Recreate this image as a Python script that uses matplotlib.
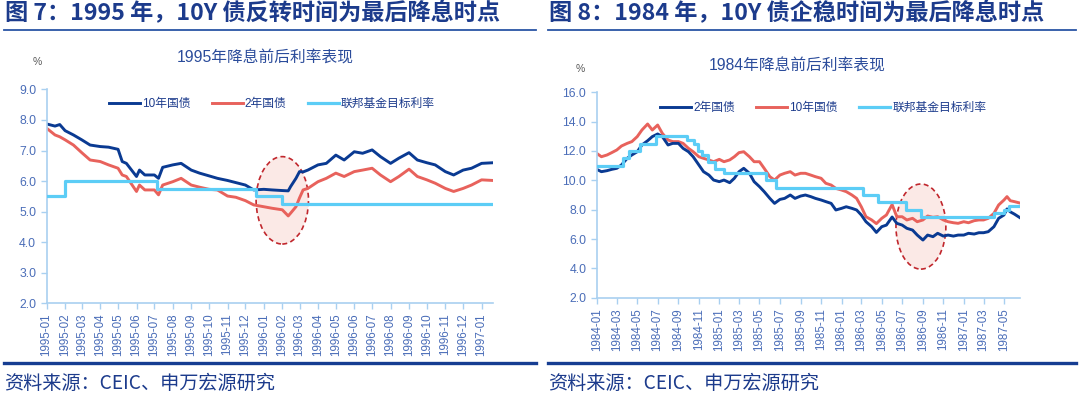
import matplotlib
matplotlib.use('Agg')
import pandas as pd
import matplotlib.pyplot as plt
import matplotlib.dates as mdates
from matplotlib.patches import Ellipse
from matplotlib.lines import Line2D

plt.rcParams['font.family'] = ['Liberation Sans', 'Noto Sans CJK SC', 'DejaVu Sans']

# ---------- 图7: 1995 ----------
DATES_95 = ['1995-01-01', '1995-01-15', '1995-01-23', '1995-02-01', '1995-02-15', '1995-03-01',
            '1995-03-15', '1995-04-01', '1995-04-15', '1995-05-01', '1995-05-08', '1995-05-15',
            '1995-06-01', '1995-06-06', '1995-06-15', '1995-07-01', '1995-07-08', '1995-07-15',
            '1995-08-01', '1995-08-15', '1995-09-01', '1995-09-15', '1995-10-01', '1995-10-15',
            '1995-11-01', '1995-11-15', '1995-12-01', '1995-12-15', '1996-01-01', '1996-01-15',
            '1996-02-01', '1996-02-11', '1996-02-15', '1996-02-24', '1996-03-01', '1996-03-07',
            '1996-03-15', '1996-04-01', '1996-04-15', '1996-05-01', '1996-05-15', '1996-06-01',
            '1996-06-15', '1996-07-01', '1996-07-15', '1996-08-01', '1996-08-15', '1996-09-01',
            '1996-09-15', '1996-10-01', '1996-10-15', '1996-11-01', '1996-11-15', '1996-12-01',
            '1996-12-15', '1997-01-01', '1997-01-20']
UST10_95 = [7.87, 7.80, 7.85, 7.65, 7.51, 7.35, 7.18, 7.13, 7.11, 7.04, 6.64, 6.58,
            6.15, 6.36, 6.20, 6.20, 6.09, 6.45, 6.53, 6.58, 6.36, 6.26, 6.17, 6.09,
            6.02, 5.95, 5.87, 5.71, 5.73, 5.71, 5.69, 5.68, 5.82, 6.09, 6.31, 6.30,
            6.36, 6.53, 6.58, 6.85, 6.69, 6.96, 6.91, 7.02, 6.80, 6.58, 6.75, 6.93,
            6.69, 6.60, 6.53, 6.31, 6.20, 6.36, 6.42, 6.58, 6.60]
UST2_95 = [7.73, 7.51, 7.45, 7.35, 7.18, 6.93, 6.69, 6.64, 6.53, 6.42, 6.20, 6.15,
           5.66, 5.87, 5.71, 5.71, 5.55, 5.87, 5.98, 6.09, 5.87, 5.80, 5.73, 5.71,
           5.51, 5.47, 5.36, 5.22, 5.16, 5.11, 5.06, 4.86, 4.95, 5.16, 5.45, 5.71,
           5.76, 5.98, 6.09, 6.26, 6.15, 6.31, 6.36, 6.42, 6.20, 5.98, 6.15, 6.39,
           6.15, 6.04, 5.93, 5.76, 5.66, 5.76, 5.87, 6.04, 6.02]
FED_DATES_95 = ['1995-01-01', '1995-02-01', '1995-07-06', '1995-12-19', '1996-01-31', '1997-01-20']
FED_95 = [5.50, 6.00, 5.75, 5.50, 5.25, 5.25]

# ---------- 图8: 1984 ----------
DATES_84 = ['1984-01-01', '1984-01-15', '1984-02-01', '1984-02-15', '1984-03-01', '1984-03-15',
            '1984-04-01', '1984-04-15', '1984-05-01', '1984-05-15', '1984-06-01', '1984-06-15',
            '1984-07-01', '1984-07-15', '1984-08-01', '1984-08-15', '1984-09-01', '1984-09-15',
            '1984-10-01', '1984-10-15', '1984-11-01', '1984-11-15', '1984-12-01', '1984-12-15',
            '1985-01-01', '1985-01-15', '1985-02-01', '1985-02-15', '1985-03-01', '1985-03-15',
            '1985-04-01', '1985-04-15', '1985-05-01', '1985-05-15', '1985-06-01', '1985-06-15',
            '1985-07-01', '1985-07-15', '1985-08-01', '1985-08-15', '1985-09-01', '1985-09-15',
            '1985-10-01', '1985-10-15', '1985-11-01', '1985-11-15', '1985-12-01', '1985-12-15',
            '1986-01-01', '1986-01-15', '1986-02-01', '1986-02-15', '1986-03-01', '1986-03-15',
            '1986-04-01', '1986-04-15', '1986-05-01', '1986-05-15', '1986-06-01', '1986-06-15',
            '1986-07-01', '1986-07-15', '1986-08-01', '1986-08-15', '1986-09-01', '1986-09-15',
            '1986-10-01', '1986-10-15', '1986-11-01', '1986-11-15', '1986-12-01', '1986-12-15',
            '1987-01-01', '1987-01-15', '1987-02-01', '1987-02-15', '1987-03-01', '1987-03-15',
            '1987-04-01', '1987-04-15', '1987-05-01', '1987-05-10', '1987-05-20', '1987-06-01',
            '1987-06-18']
UST2_84 = [10.75, 10.59, 10.66, 10.75, 10.82, 11.05, 11.50, 11.73, 11.95, 12.41, 12.70, 12.98,
           13.16, 12.98, 12.41, 12.52, 12.52, 12.18, 11.95, 11.61, 11.05, 10.59, 10.36, 10.02,
           9.91, 10.02, 9.84, 10.14, 10.59, 10.82, 10.48, 9.91, 9.57, 9.23, 8.77, 8.43,
           8.70, 8.77, 9.00, 8.77, 8.93, 9.00, 8.89, 8.77, 8.66, 8.55, 8.43, 7.98,
           8.09, 8.20, 8.09, 7.98, 7.64, 7.18, 6.84, 6.45, 6.84, 6.95, 7.50, 7.07,
           6.95, 6.73, 6.61, 6.27, 5.93, 6.27, 6.16, 6.39, 6.20, 6.27, 6.20, 6.27,
           6.27, 6.39, 6.34, 6.43, 6.43, 6.50, 6.84, 7.41, 7.64, 8.05, 7.85, 7.70,
           7.45]
UST10_84 = [11.84, 11.61, 11.73, 11.89, 12.07, 12.34, 12.52, 12.64, 12.98, 13.43, 13.84, 13.43,
            13.77, 13.20, 12.75, 12.64, 12.64, 12.52, 12.18, 11.95, 11.61, 11.50, 11.39, 11.27,
            11.43, 11.27, 11.39, 11.61, 11.89, 11.95, 11.61, 11.27, 11.27, 10.82, 10.25, 10.02,
            10.36, 10.48, 10.59, 10.36, 10.48, 10.48, 10.36, 10.25, 10.14, 9.80, 9.68, 9.45,
            9.34, 9.23, 9.00, 8.77, 8.20, 7.52, 7.30, 7.05, 7.41, 7.64, 8.35, 7.52,
            7.52, 7.30, 7.41, 7.18, 7.30, 7.57, 7.48, 7.52, 7.30, 7.18, 7.11, 7.07,
            7.18, 7.11, 7.25, 7.30, 7.30, 7.41, 7.75, 8.32, 8.66, 8.89, 8.61, 8.55,
            8.45]
PRIME_DATES_84 = ['1984-01-01', '1984-03-19', '1984-04-05', '1984-05-08', '1984-06-25', '1984-09-27',
                  '1984-10-17', '1984-10-29', '1984-11-09', '1984-11-28', '1984-12-20', '1985-01-15',
                  '1985-05-20', '1985-06-18', '1986-03-07', '1986-04-21', '1986-07-11', '1986-08-26',
                  '1987-04-01', '1987-05-01', '1987-05-15', '1987-06-18']
PRIME_84 = [11.0, 11.5, 12.0, 12.5, 13.0, 12.75, 12.5, 12.0, 11.75, 11.25, 10.75, 10.5,
            10.0, 9.5, 9.0, 8.5, 8.0, 7.5, 7.75, 8.0, 8.25, 8.25]

NAVY = '#0A3A92'
RED = '#E8625C'
SKY = '#5CCDF6'
SPINE = '#A9D0F0'
TICKC = '#4A6DB8'
TEXTC = '#1C3B8C'


def draw_panel(ax, dates, s1, s2, sdates, srate, c1, c2, labels, ylim, ystep, tick_every, ell):
    d = pd.to_datetime(dates)
    sd = pd.to_datetime(sdates)
    ax.add_patch(Ellipse((mdates.date2num(pd.Timestamp(ell[0])), ell[1]), ell[2], ell[3],
                         facecolor='#FBE9E6', edgecolor='#C1272D', ls=(0, (3, 2)), lw=1.2, zorder=1))
    ax.step(sd, srate, where='post', color=SKY, lw=2.3, label=labels[2], zorder=3)
    ax.plot(d, s2, color=c2, lw=2.1, label=labels[1], zorder=2)
    ax.plot(d, s1, color=c1, lw=2.1, label=labels[0], zorder=2)
    ax.set_xlim(d[0], d[-1])
    ax.set_ylim(*ylim)
    ax.set_yticks([ylim[0] + ystep * i for i in range(int((ylim[1] - ylim[0]) / ystep) + 1)])
    ax.yaxis.set_major_formatter(plt.FormatStrFormatter('%.1f'))
    ax.xaxis.set_major_locator(mdates.MonthLocator(interval=tick_every))
    ax.xaxis.set_major_formatter(mdates.DateFormatter('%Y-%m'))
    for s in ['top', 'right']:
        ax.spines[s].set_visible(False)
    for s in ['left', 'bottom']:
        ax.spines[s].set_color(SPINE)
        ax.spines[s].set_linewidth(1.2)
    ax.tick_params(axis='both', colors=SPINE, labelcolor=TICKC, length=4, width=1)
    ax.tick_params(axis='y', labelsize=8.8)
    ax.tick_params(axis='x', labelsize=8.4, rotation=90)
    h, l = ax.get_legend_handles_labels()
    order = [2, 1, 0]
    return [h[i] for i in order], [l[i] for i in order]


fig = plt.figure(figsize=(10.8, 3.96), dpi=100)

ax1 = fig.add_axes([0.0432, 0.2341, 0.4132, 0.5401])
h, l = draw_panel(ax1, DATES_95, UST10_95, UST2_95, FED_DATES_95, FED_95, NAVY, RED,
                  ['10年国债', '2年国债', '联邦基金目标利率'], (2, 9), 1.0, 1,
                  ('1996-02-01', 5.37, 88, 2.86))
ax1.legend(h, l, loc='center', bbox_to_anchor=(0.505, 0.932), ncol=3, frameon=False,
           fontsize=8.5, handlelength=2.6, columnspacing=1.8, handletextpad=0.2,
           labelcolor=TEXTC)

ax2 = fig.add_axes([0.5525, 0.2482, 0.392, 0.5187])
h, l = draw_panel(ax2, DATES_84, UST2_84, UST10_84, PRIME_DATES_84, PRIME_84, NAVY, RED,
                  ['2年国债', '10年国债', '联邦基金目标利率'], (2, 16), 2.0, 2,
                  ('1986-08-26', 6.85, 149, 5.8))
ax2.legend(h, l, loc='center', bbox_to_anchor=(0.535, 0.924), ncol=3, frameon=False,
           fontsize=8.5, handlelength=2.6, columnspacing=1.8, handletextpad=0.2,
           labelcolor=TEXTC)

# headers, rules, sources
W, H = 1080.0, 396.0
for x0, x1, title, sub, subx, suby, pct in [
        (4, 536, '图 7：1995 年，10Y 债反转时间为最后降息时点', '1995年降息前后利率表现', 265, 58, (37, 62)),
        (548, 1076, '图 8：1984 年，10Y 债企稳时间为最后降息时点', '1984年降息前后利率表现', 797, 66, (580, 69))]:
    fig.text(x0 / W + 0.001, 1 - 14 / H, title, fontsize=16.7, fontweight='bold', color=TEXTC,
             family='Noto Sans CJK SC', va='center', ha='left')
    fig.add_artist(Line2D([x0 / W, x1 / W], [1 - 30 / H, 1 - 30 / H], color='#2A55A5', lw=1.3))
    fig.text(subx / W, 1 - suby / H, sub, fontsize=11.3, color='#2B4C9B', ha='center', va='center')
    fig.text(pct[0] / W, 1 - pct[1] / H, '%', fontsize=7.5, color='#595959', ha='center', va='center')
    fig.add_artist(Line2D([x0 / W, x1 / W], [1 - 363 / H, 1 - 363 / H], color='#163D92', lw=2.4))
    fig.text(x0 / W, 1 - 383 / H, '资料来源：CEIC、申万宏源研究', fontsize=13.8, color=TEXTC,
             family='Noto Sans CJK SC', va='center', ha='left')

fig.savefig('out.png', dpi=100)
